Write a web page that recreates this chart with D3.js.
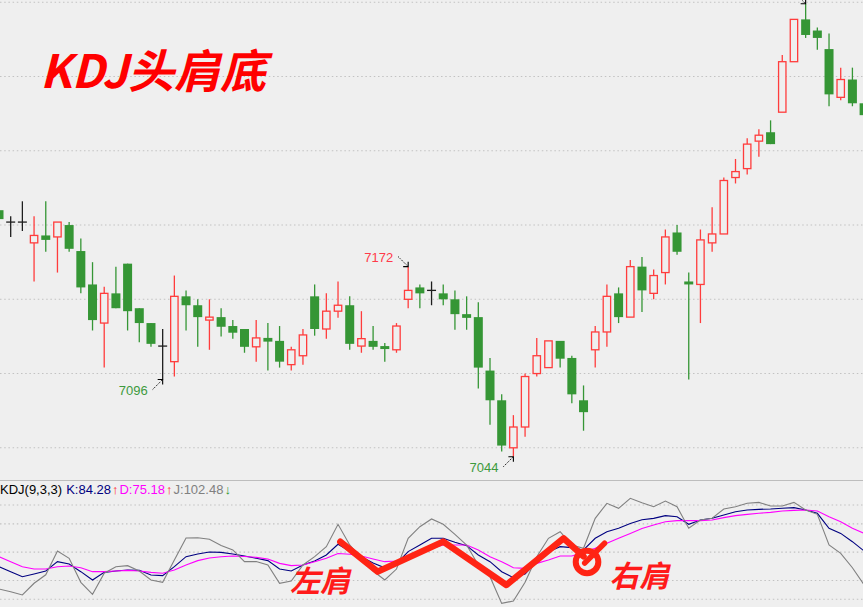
<!DOCTYPE html>
<html>
<head>
<meta charset="utf-8">
<script src="https://cdn.jsdelivr.net/npm/d3@7"></script>
<style>
  html, body { margin: 0; padding: 0; background: #efefef; overflow: hidden; }
  svg { display: block; }
</style>
</head>
<body>
<svg id="chart" width="863" height="607"></svg>
<script>
// ---- daily bars (open / high / low / close) ----
const opens  = [7210,7202,7202,7188,7193,7192,7200,7182.5,7160,7134,7154,7174,7144,7134,7118.5,7108,7152,7146,7136,7138,
                7132,7130,7118,7124,7122,7106,7112,7152,7130,7142,7146,7118.5,7122,7118.5,7116,7150,7158,7156,7154,7150,
                7140,7138,7102,7082,7050,7064,7100,7104,7122,7110.5,7082,7116,7128,7154,7138,7172,7154,7168,7195,7162,
                7160,7188,7194,7232,7238,7256.5,7262.5,7276,7310,7338.5,7331,7318.5,7286,7298,7282];
const highs  = [7213,7206,7216,7206,7216,7202,7202,7191,7175,7158.5,7172,7174,7144,7134,7130,7166,7156,7150,7150,7144,
                7136,7130,7136,7134,7132,7118,7130,7160,7154,7162,7152,7142,7132,7120.5,7134,7172,7160,7162,7160,7156,
                7152,7148,7110.5,7086,7072,7100,7124,7122,7122,7112,7092,7132,7160,7158,7176.5,7178.5,7170,7197,7200,7168,
                7197,7212,7232,7244.5,7258.5,7264.5,7270.5,7314.5,7338.5,7349,7333,7329,7306,7306,7284];
const lows   = [7202,7192,7196,7162,7182,7168,7182,7154,7129,7104,7144,7129,7121,7118,7096,7098,7129,7118,7116,7125,
                7123.5,7114,7108,7102,7104,7102,7106,7125.5,7123.5,7137.5,7116,7114,7116,7108,7114,7144,7144,7146,7146,7129.5,
                7129.5,7090,7065.5,7047.5,7044,7057.5,7098,7104,7104,7080,7061.5,7104,7118,7134,7138,7141.5,7150,7160,7180,7096,
                7134,7182,7194,7228,7234,7246,7254.5,7276,7310,7326,7318,7280,7284,7280,7271];
const closes = [7204,7202,7202,7193,7190,7202,7184,7158,7136,7154,7144,7142,7134,7120,7118.5,7152,7146,7138,7138,7131.5,
                7127.5,7118,7124,7121.5,7108,7116,7126,7130,7142,7146,7120,7123.5,7118,7116.5,7132,7156,7154,7156,7150,7140,
                7137.5,7104,7082,7051.5,7064,7098,7112,7122,7110,7086,7074,7128,7152,7138,7172,7156,7166,7192,7182,7160,
                7190,7194,7230,7236,7254.5,7260.5,7254.5,7310,7338.5,7328,7326,7288,7298,7282,7274];

// ---- KDJ(9,3,3) ----
const kValues = [34.6,29.3,24.0,26.9,30.0,39.9,37.4,29.3,20.5,28.6,30.0,31.1,30.7,25.8,25.1,34.6,45.2,48.0,50.2,49.8,
                 48.0,45.9,43.5,41.0,32.1,30.0,36.4,40.6,47.0,58.4,51.0,45.1,38.5,33.4,37.8,50.6,57.5,64.7,64.7,60.4,
                 56.9,47.0,39.9,29.3,22.9,26.9,39.9,50.5,55.8,54.8,52.3,64.7,71.7,75.3,80.4,84.28,85.8,88.7,87.6,79.5,
                 84.1,85.9,89.4,92.9,94.7,95.4,95.8,96.5,97.2,94.7,91.2,75.3,69.9,61.1,51.2];
const dValues = [45.2,39.9,34.6,32.1,32.1,34.6,35.3,33.5,29.3,29.3,30.0,30.7,30.0,28.6,27.6,31.1,36.4,41.0,43.8,45.2,
                 45.9,45.4,44.5,42.8,38.1,35.7,36.4,39.9,43.5,48.5,47.7,45.9,42.8,39.9,40.6,43.5,47.7,54.0,57.6,57.6,
                 57.6,52.3,45.2,39.9,33.5,32.8,38.1,41.7,45.9,45.9,49.8,54.1,59.4,64.7,69.9,75.18,78.8,82.3,83.4,83.4,
                 83.4,84.1,86.6,88.7,90.1,91.2,92.2,93.6,94.3,94.7,93.6,87.6,82.3,75.3,69.9];
const jValues = [10.9,8.1,4.6,17.0,26.0,51.2,43.5,18.0,5.3,27.6,34.6,35.7,30.0,20.5,18.0,41.7,65.0,65.3,63.6,57.0,
                 52.3,40.0,40.0,36.5,17.0,19.4,36.4,45.2,55.8,79.5,57.6,43.5,30.0,20.5,32.1,64.7,77.0,85.2,79.5,68.9,
                 57.6,36.4,24.0,-4.3,-1.8,18.0,45.2,64.7,71.7,57.6,54.1,85.9,101.8,96.5,107.1,102.48,98.2,104.2,98.2,75.3,
                 84.1,85.9,95.8,98.2,101.8,102.8,98.9,98.9,102.8,94.7,90.1,57.6,48.8,33.5,15.2];

const kdjParams   = [9, 3, 3];
const priceTicks  = [7050, 7100, 7150, 7200, 7250, 7300, 7350];
const kdjTicks    = [0, 20, 50, 80, 100];
const legendIndex = 55;        // bar whose KDJ readings are shown in the legend
const markedLows  = [14, 44];  // swing lows labelled on the chart
const markedHighs = [35, 69];  // swing highs labelled on the chart

// hand-drawn head-and-shoulders trace over the KDJ pane: [bar index, KDJ value]
const shoulderTrace  = [[29.2, 61], [32.4, 29.3], [38, 61.2], [43.4, 15.2], [48.3, 64.7], [50, 45.5]];
const shoulderCircle = [50.3, 39.6];
const shoulderTick   = [[50.1, 38.5], [51.8, 59.4]];
const shoulderLabels = [{ text: "左肩", at: [24.9, 7.5] }, { text: "右肩", at: [52.2, 13] }];
const titleText = "KDJ头肩底";

// ---- layout ----
const W = 863, H = 607;
const mainBottom = 480;
const svg = d3.select("#chart");

const x = d3.scaleLinear().domain([0, opens.length - 1]).range([-1, 864.1]);
const y = d3.scaleLinear().domain([7050, 7350]).range([447.8, 2.3]);
const yk = d3.scaleLinear().domain([0, 100]).range([599.3, 505]);

const RED = "#ff3c3c", GREEN = "#359635", FLAT = "#1e1e1e";

svg.append("rect").attr("width", W).attr("height", H).attr("fill", "#efefef");

const defs = svg.append("defs");
defs.append("clipPath").attr("id", "mainClip")
  .append("rect").attr("x", 0).attr("y", 0).attr("width", W).attr("height", mainBottom);
defs.append("clipPath").attr("id", "kdjClip")
  .append("rect").attr("x", 0).attr("y", mainBottom + 1).attr("width", W).attr("height", H - mainBottom - 1);

// ---- grid ----
const gridStyle = g => g.attr("stroke", "#c2c2c2").attr("stroke-width", 1.1).attr("stroke-dasharray", "1.5,2.7");
svg.append("g").call(gridStyle)
  .selectAll("line").data(priceTicks).join("line")
  .attr("x1", 0).attr("x2", W).attr("y1", d => y(d)).attr("y2", d => y(d));
svg.append("g").call(gridStyle)
  .selectAll("line").data(kdjTicks).join("line")
  .attr("x1", 0).attr("x2", W).attr("y1", d => yk(d)).attr("y2", d => yk(d));

// pane separator
svg.append("line").attr("x1", 0).attr("x2", W).attr("y1", mainBottom + 0.5).attr("y2", mainBottom + 0.5)
  .attr("stroke", "#bdbdbd").attr("stroke-width", 1.2);

// ---- candlesticks ----
const bars = opens.map((o, i) => ({ i, o, h: highs[i], l: lows[i], c: closes[i] }));
const main = svg.append("g").attr("clip-path", "url(#mainClip)");

bars.forEach(d => {
  const cx = x(d.i);
  if (d.c > d.o) {
    // rising bar: hollow red body
    const top = y(d.c), bot = y(d.o);
    main.append("line").attr("x1", cx).attr("x2", cx).attr("y1", y(d.h)).attr("y2", top)
      .attr("stroke", RED).attr("stroke-width", 1.3);
    main.append("line").attr("x1", cx).attr("x2", cx).attr("y1", bot).attr("y2", y(d.l))
      .attr("stroke", RED).attr("stroke-width", 1.3);
    main.append("rect").attr("x", cx - 3.7).attr("y", top).attr("width", 7.4).attr("height", Math.max(bot - top, 1))
      .attr("fill", "#efefef").attr("stroke", RED).attr("stroke-width", 1.3);
  } else if (d.c < d.o) {
    // falling bar: solid green body
    const top = y(d.o), bot = y(d.c);
    main.append("line").attr("x1", cx).attr("x2", cx).attr("y1", y(d.h)).attr("y2", y(d.l))
      .attr("stroke", GREEN).attr("stroke-width", 1.3);
    main.append("rect").attr("x", cx - 4.5).attr("y", top).attr("width", 9).attr("height", Math.max(bot - top, 1.5))
      .attr("fill", GREEN);
  } else {
    // unchanged bar: cross
    main.append("line").attr("x1", cx).attr("x2", cx).attr("y1", y(d.h)).attr("y2", y(d.l))
      .attr("stroke", FLAT).attr("stroke-width", 1.3);
    main.append("line").attr("x1", cx - 4.5).attr("x2", cx + 4.5).attr("y1", y(d.o)).attr("y2", y(d.o))
      .attr("stroke", FLAT).attr("stroke-width", 1.3);
  }
});

// ---- swing high / low markers ----
// side: +1 puts the label below-left of a low, -1 above-left of a high
function pointer(tx, ty, side, label, color) {
  const sx = tx - 10, sy = ty + 10 * side;
  main.append("line").attr("x1", sx).attr("y1", sy).attr("x2", tx).attr("y2", ty)
    .attr("stroke", "#000").attr("stroke-width", 1).attr("stroke-dasharray", "1.2,1.2");
  const head = [[tx - 5, ty], [tx, ty], [tx, ty + 5 * side]];
  main.append("path").attr("d", d3.line()(head)).attr("fill", "none")
    .attr("stroke", "#000").attr("stroke-width", 1.1);
  // the value only gets printed when it lands inside the price pane
  const baseline = sy + 5.2;
  if (baseline - 10 >= 0 && baseline <= mainBottom) {
    main.append("text").attr("x", sx - 5).attr("y", baseline)
      .attr("text-anchor", "end").attr("font-family", "Liberation Sans, Arial, sans-serif")
      .attr("font-size", 13).attr("fill", color).text(label);
  }
}
markedLows.forEach(i => pointer(x(i), y(lows[i]), 1, String(lows[i]), "#3d9a3d"));
markedHighs.forEach(i => pointer(x(i), y(highs[i]), -1, String(highs[i]), "#ff3a4a"));

// ---- title ----
svg.append("text").attr("x", 40).attr("y", 88)
  .attr("font-family", "'Noto Sans CJK SC', sans-serif").attr("font-size", 46)
  .attr("font-weight", "bold").attr("font-style", "italic")
  .attr("fill", "#ff0000").text(titleText);

// ---- KDJ pane ----
const kdj = svg.append("g").attr("clip-path", "url(#kdjClip)");
const kdjLine = d3.line().x((d, i) => x(i)).y(d => yk(d));
[[kValues, "#000080"], [dValues, "#ff00ff"], [jValues, "#808080"]].forEach(([vals, col]) => {
  kdj.append("path").attr("d", kdjLine(vals)).attr("fill", "none")
    .attr("stroke", col).attr("stroke-width", 1.1);
});

// legend
const legendParts = [];
const trendArrow = arr => arr[legendIndex] >= arr[legendIndex - 1]
  ? { text: "↑", color: "#ff2020" } : { text: "↓", color: "#2a962a" };
legendParts.push({ text: `KDJ(${kdjParams.join(",")})`, color: "#000", gap: 4 });
legendParts.push({ text: `K:${kValues[legendIndex].toFixed(2)}`, color: "#000080", gap: 1 });
legendParts.push({ ...trendArrow(kValues), gap: 1 });
legendParts.push({ text: `D:${dValues[legendIndex].toFixed(2)}`, color: "#ff00ff", gap: 1 });
legendParts.push({ ...trendArrow(dValues), gap: 1 });
legendParts.push({ text: `J:${jValues[legendIndex].toFixed(2)}`, color: "#808080", gap: 1 });
legendParts.push({ ...trendArrow(jValues), gap: 1 });

let lx = 0;
const legend = svg.append("g");
legendParts.forEach(p => {
  const t = legend.append("text").attr("x", lx).attr("y", 493.5)
    .attr("font-family", "Liberation Sans, Arial, sans-serif").attr("font-size", 13)
    .attr("fill", p.color).text(p.text);
  lx += t.node().getComputedTextLength() + p.gap;
});

// head-and-shoulders annotation
const ann = svg.append("g");
const annLine = d3.line().x(d => x(d[0])).y(d => yk(d[1]));
ann.append("path").attr("d", annLine(shoulderTrace)).attr("fill", "none")
  .attr("stroke", "#ff2414").attr("stroke-width", 6.5)
  .attr("stroke-linecap", "round").attr("stroke-linejoin", "round");
ann.append("circle").attr("cx", x(shoulderCircle[0])).attr("cy", yk(shoulderCircle[1])).attr("r", 11.3)
  .attr("fill", "none").attr("stroke", "#ff2414").attr("stroke-width", 6);
ann.append("path").attr("d", annLine(shoulderTick)).attr("fill", "none")
  .attr("stroke", "#ff2414").attr("stroke-width", 5.5).attr("stroke-linecap", "round");
ann.selectAll("text.shoulder").data(shoulderLabels).join("text").attr("class", "shoulder")
  .attr("x", d => x(d.at[0])).attr("y", d => yk(d.at[1]))
  .attr("font-family", "'Noto Sans CJK SC', sans-serif").attr("font-size", 30)
  .attr("font-style", "italic").attr("font-weight", "bold")
  .attr("fill", "#ff1a1a").text(d => d.text);
</script>
</body>
</html>
